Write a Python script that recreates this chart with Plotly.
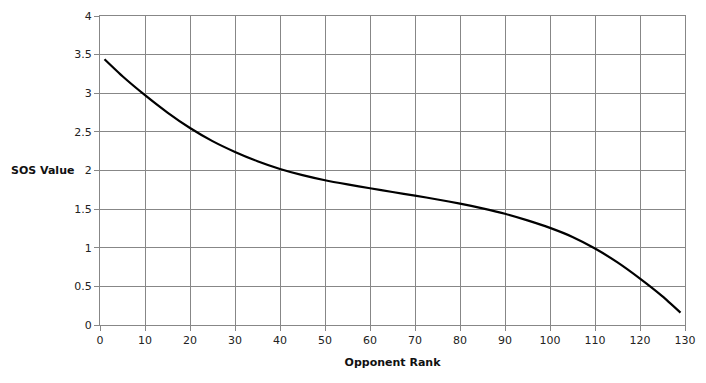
import plotly.graph_objects as go

opponent_rank = [1, 5, 10, 15, 20, 25, 30, 35, 40, 45, 50, 55, 60, 65, 70, 75, 80, 85, 90, 95, 100, 105, 110, 115, 120, 125, 129]
sos_value = [3.44, 3.22, 2.975, 2.75, 2.55, 2.38, 2.24, 2.12, 2.02, 1.94, 1.874, 1.82, 1.77, 1.722, 1.675, 1.625, 1.572, 1.51, 1.44, 1.355, 1.257, 1.14, 0.99, 0.81, 0.60, 0.37, 0.16]

x_ticks = list(range(0, 131, 10))
y_ticks = [0, 0.5, 1, 1.5, 2, 2.5, 3, 3.5, 4]
y_tick_text = ["0", "0.5", "1", "1.5", "2", "2.5", "3", "3.5", "4"]

grid = "#878787"
font = "DejaVu Sans"

fig = go.Figure()
fig.add_trace(go.Scatter(
    x=opponent_rank, y=sos_value, mode="lines",
    line=dict(color="black", width=2.2, shape="spline", smoothing=0.5),
    hoverinfo="skip", showlegend=False,
))

fig.update_layout(
    width=706, height=383,
    margin=dict(l=100, r=21, t=10, b=58),
    paper_bgcolor="white", plot_bgcolor="white",
    font=dict(family=font, size=11, color="#222222"),
    xaxis=dict(
        range=[0, 130], tickvals=x_ticks, showgrid=True, gridcolor=grid, gridwidth=1,
        showline=True, linecolor=grid, linewidth=1, mirror=True,
        ticks="outside", ticklen=5, tickcolor=grid, zeroline=False,
        title=dict(text="<b>Opponent Rank</b>", font=dict(family=font, size=11, color="#111111"), standoff=12),
    ),
    yaxis=dict(
        range=[0, 4], tickvals=y_ticks, ticktext=y_tick_text, showgrid=True, gridcolor=grid, gridwidth=1,
        showline=True, linecolor=grid, linewidth=1, mirror=True,
        ticks="outside", ticklen=5, tickcolor=grid, zeroline=False,
    ),
    annotations=[dict(
        text="<b>SOS Value</b>", xref="paper", yref="paper",
        x=(9 - 100) / 585, y=(325 - 168) / 315, xanchor="left", yanchor="middle",
        showarrow=False, font=dict(family=font, size=11, color="#111111"),
    )],
)

fig.write_html(
    "out.html",
    config={"displayModeBar": False},
    post_script="document.body.style.margin='0';document.body.style.overflow='hidden';",
)
